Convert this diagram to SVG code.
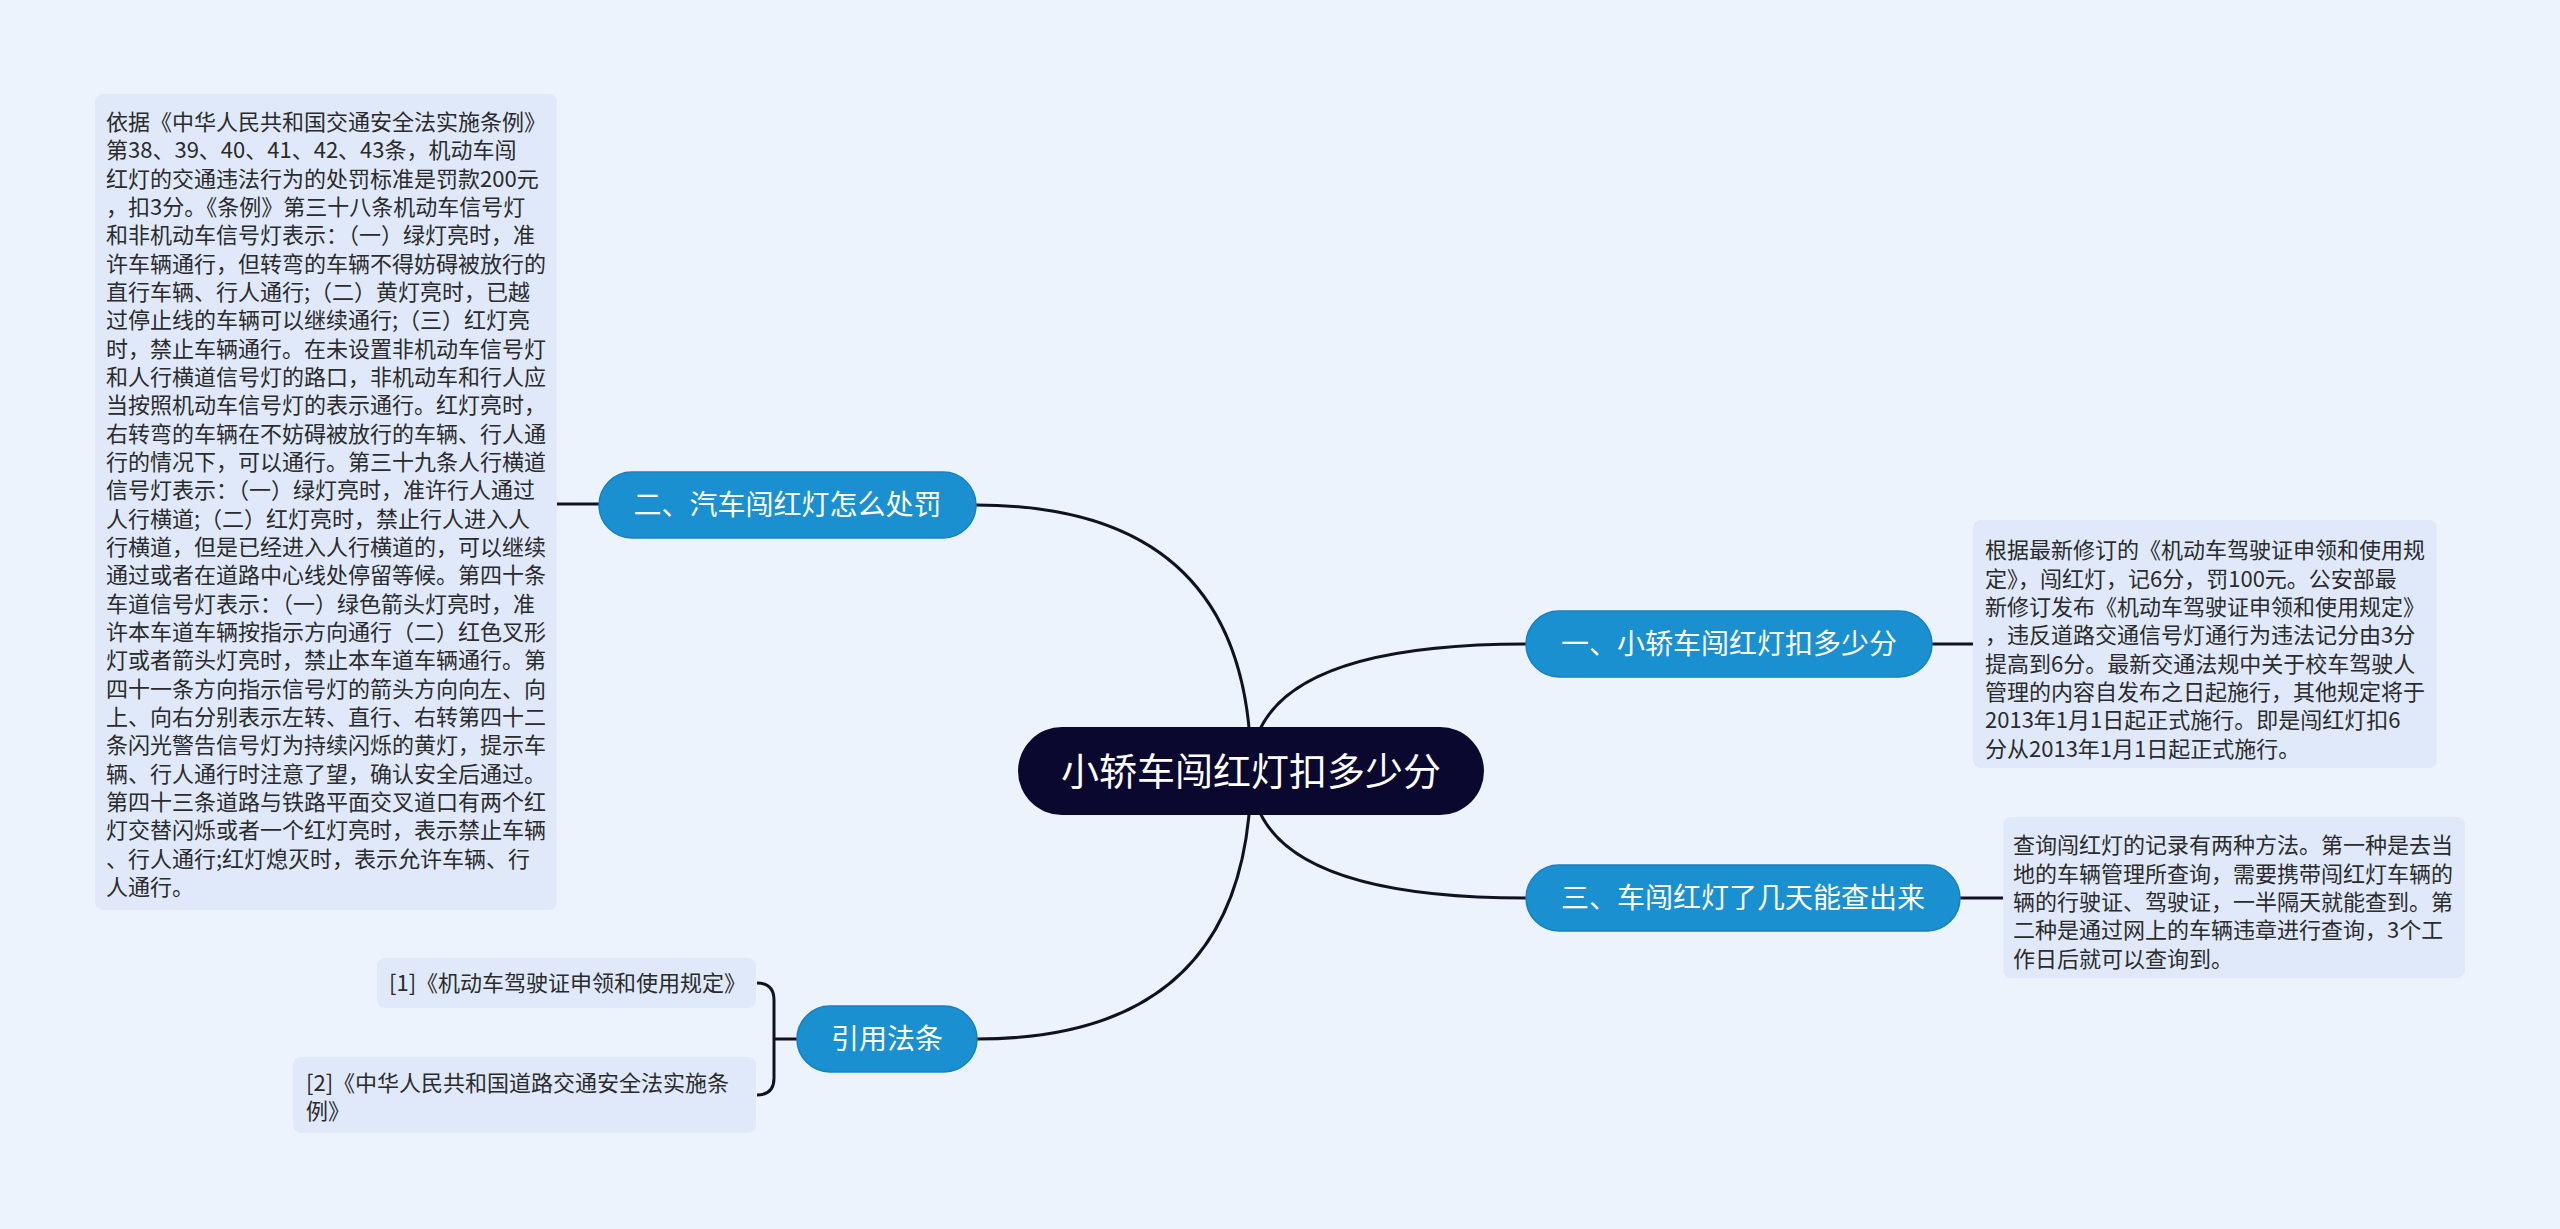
<svg xmlns="http://www.w3.org/2000/svg" width="2560" height="1229" viewBox="0 0 2560 1229">
<style>
.bg{fill:#edf3fd}
.leaf{fill:#dfe9f9}
.lt{font-family:"Noto Sans CJK SC","Noto Sans",sans-serif;font-size:22px;fill:#2b2b2b}
.br{fill:#1b90d1;stroke:#1681c0;stroke-width:1.5}
.bt{font-family:"Noto Sans CJK SC","Noto Sans",sans-serif;font-size:28px;fill:#ffffff;text-anchor:middle}
.root{fill:#0b0830}
.rt{font-family:"Noto Sans CJK SC","Noto Sans",sans-serif;font-size:38px;fill:#ffffff;text-anchor:middle}
.ln{fill:none;stroke:#111122;stroke-width:3}
</style>
<rect class="bg" x="0" y="0" width="2560" height="1229"/>
<g id="connectors">
<path class="ln" d="M1251 771 Q1251 505 976 505"/>
<path class="ln" d="M1251 771 Q1251 644 1526 644"/>
<path class="ln" d="M1251 771 Q1251 898 1526 898"/>
<path class="ln" d="M1251 771 Q1251 1039 977 1039"/>
<path class="ln" d="M599 504 L557 504"/>
<path class="ln" d="M1932 644 L1973 644"/>
<path class="ln" d="M1960 898 L2003 898"/>
<path class="ln" d="M797 1039 L774 1039"/>
<path class="ln" d="M757 983 Q774 983 774 1000 L774 1078 Q774 1095 757 1095"/>
</g>
<g id="root">
<rect class="root" x="1018" y="727" width="466" height="88" rx="44"/>
<text class="rt" x="1251" y="785">小轿车闯红灯扣多少分</text>
</g>
<g id="branch2">
<rect class="br" x="599" y="472" width="377" height="66" rx="33"/>
<text class="bt" x="787.5" y="515">二、汽车闯红灯怎么处罚</text>
</g>
<g id="branch1">
<rect class="br" x="1526" y="611" width="406" height="66" rx="33"/>
<text class="bt" x="1729" y="654">一、小轿车闯红灯扣多少分</text>
</g>
<g id="branch3">
<rect class="br" x="1526" y="865" width="434" height="66" rx="33"/>
<text class="bt" x="1743" y="908">三、车闯红灯了几天能查出来</text>
</g>
<g id="branch4">
<rect class="br" x="797" y="1006" width="180" height="66" rx="33"/>
<text class="bt" x="887" y="1049">引用法条</text>
</g>
<g id="leaf2">
<rect class="leaf" x="95" y="94" width="462" height="816" rx="8"/>
<text class="lt" x="106">
<tspan x="106" y="130">依据《中华人民共和国交通安全法实施条例》</tspan>
<tspan x="106" y="158.3">第38、39、40、41、42、43条，机动车闯</tspan>
<tspan x="106" y="186.7">红灯的交通违法行为的处罚标准是罚款200元</tspan>
<tspan x="106" y="215">，扣3分。《条例》第三十八条机动车信号灯</tspan>
<tspan x="106" y="243.3">和非机动车信号灯表示：（一）绿灯亮时，准</tspan>
<tspan x="106" y="271.7">许车辆通行，但转弯的车辆不得妨碍被放行的</tspan>
<tspan x="106" y="300">直行车辆、行人通行;（二）黄灯亮时，已越</tspan>
<tspan x="106" y="328.3">过停止线的车辆可以继续通行;（三）红灯亮</tspan>
<tspan x="106" y="356.7">时，禁止车辆通行。在未设置非机动车信号灯</tspan>
<tspan x="106" y="385">和人行横道信号灯的路口，非机动车和行人应</tspan>
<tspan x="106" y="413.3">当按照机动车信号灯的表示通行。红灯亮时，</tspan>
<tspan x="106" y="441.7">右转弯的车辆在不妨碍被放行的车辆、行人通</tspan>
<tspan x="106" y="470">行的情况下，可以通行。第三十九条人行横道</tspan>
<tspan x="106" y="498.3">信号灯表示：（一）绿灯亮时，准许行人通过</tspan>
<tspan x="106" y="526.7">人行横道;（二）红灯亮时，禁止行人进入人</tspan>
<tspan x="106" y="555">行横道，但是已经进入人行横道的，可以继续</tspan>
<tspan x="106" y="583.3">通过或者在道路中心线处停留等候。第四十条</tspan>
<tspan x="106" y="611.7">车道信号灯表示：（一）绿色箭头灯亮时，准</tspan>
<tspan x="106" y="640">许本车道车辆按指示方向通行（二）红色叉形</tspan>
<tspan x="106" y="668.3">灯或者箭头灯亮时，禁止本车道车辆通行。第</tspan>
<tspan x="106" y="696.7">四十一条方向指示信号灯的箭头方向向左、向</tspan>
<tspan x="106" y="725">上、向右分别表示左转、直行、右转第四十二</tspan>
<tspan x="106" y="753.3">条闪光警告信号灯为持续闪烁的黄灯，提示车</tspan>
<tspan x="106" y="781.7">辆、行人通行时注意了望，确认安全后通过。</tspan>
<tspan x="106" y="810">第四十三条道路与铁路平面交叉道口有两个红</tspan>
<tspan x="106" y="838.3">灯交替闪烁或者一个红灯亮时，表示禁止车辆</tspan>
<tspan x="106" y="866.7">、行人通行;红灯熄灭时，表示允许车辆、行</tspan>
<tspan x="106" y="895">人通行。</tspan>
</text>
</g>
<g id="leaf1">
<rect class="leaf" x="1973" y="520" width="464" height="248" rx="8"/>
<text class="lt">
<tspan x="1985" y="558.4">根据最新修订的《机动车驾驶证申领和使用规</tspan>
<tspan x="1985" y="586.7">定》，闯红灯，记6分，罚100元。公安部最</tspan>
<tspan x="1985" y="615">新修订发布《机动车驾驶证申领和使用规定》</tspan>
<tspan x="1985" y="643.4">，违反道路交通信号灯通行为违法记分由3分</tspan>
<tspan x="1985" y="671.7">提高到6分。最新交通法规中关于校车驾驶人</tspan>
<tspan x="1985" y="700">管理的内容自发布之日起施行，其他规定将于</tspan>
<tspan x="1985" y="728.4">2013年1月1日起正式施行。即是闯红灯扣6</tspan>
<tspan x="1985" y="756.7">分从2013年1月1日起正式施行。</tspan>
</text>
</g>
<g id="leaf3">
<rect class="leaf" x="2003" y="817" width="462" height="161" rx="8"/>
<text class="lt">
<tspan x="2013" y="853.4">查询闯红灯的记录有两种方法。第一种是去当</tspan>
<tspan x="2013" y="881.7">地的车辆管理所查询，需要携带闯红灯车辆的</tspan>
<tspan x="2013" y="910">辆的行驶证、驾驶证，一半隔天就能查到。第</tspan>
<tspan x="2013" y="938.4">二种是通过网上的车辆违章进行查询，3个工</tspan>
<tspan x="2013" y="966.7">作日后就可以查询到。</tspan>
</text>
</g>
<g id="ref1">
<rect class="leaf" x="377" y="958" width="379" height="50" rx="8"/>
<text class="lt" x="389" y="991">[1]《机动车驾驶证申领和使用规定》</text>
</g>
<g id="ref2">
<rect class="leaf" x="293" y="1057" width="463" height="76" rx="8"/>
<text class="lt">
<tspan x="306" y="1091">[2]《中华人民共和国道路交通安全法实施条</tspan>
<tspan x="306" y="1119">例》</tspan>
</text>
</g>
</svg>
